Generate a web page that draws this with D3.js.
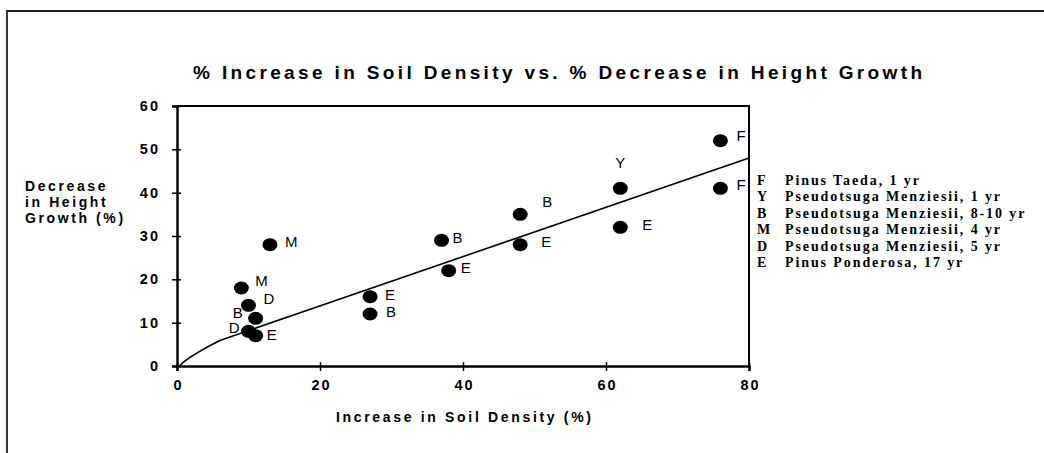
<!DOCTYPE html>
<html><head><meta charset="utf-8">
<script src="https://cdn.jsdelivr.net/npm/d3@7"></script>
<style>
html,body{margin:0;padding:0;background:#fff;}
svg{display:block;}
</style></head>
<body>
<svg id="chart" width="1044" height="453"></svg>
<script>
// ---- data ----
const pointCodes     = ["F","F","Y","E","B","E","B","E","E","B","M","M","D","B","D","E"];
const soilDensity    = [76, 76, 62, 62, 48, 48, 37, 38, 27, 27, 13,  9, 10, 11, 10, 11];
const heightDecrease = [52, 41, 41, 32, 35, 28, 29, 22, 16, 12, 28, 18, 14, 11,  8,  7];
const trendX = [0.3, 1, 2, 3, 4.5, 6, 80];
const trendY = [0, 1.0, 2.2, 3.2, 4.6, 5.9, 48];
const xTicks = [0, 20, 40, 60, 80];
const yTicks = [0, 10, 20, 30, 40, 50, 60];
const legendCodes  = ["F","Y","B","M","D","E"];
const legendLabels = ["Pinus Taeda, 1 yr","Pseudotsuga Menziesii, 1 yr","Pseudotsuga Menziesii, 8-10 yr",
                      "Pseudotsuga Menziesii, 4 yr","Pseudotsuga Menziesii, 5 yr","Pinus Ponderosa, 17 yr"];
const titleText  = "% Increase in Soil Density vs. % Decrease in Height Growth";
const xTitleText = "Increase in Soil Density (%)";
const yTitleLines = ["Decrease","in Height","Growth (%)"];

// label placement offsets (layout only)
const labelDx     = [16,16, 0,22,22,21,11,12,15,16,15,14,15,-13,-9,11];
const labelDy     = [-5,-4,-26,-3,-13,-3,-3,-3,-2,-3,-3,-8,-7,-6,-4,-1];
const labelAnchor = ["start","start","middle","start","start","start","start","start","start","start","start","start","start","end","end","start"];

// ---- layout ----
const svg = d3.select("#chart");
const L = 177, R = 749, T = 106, B = 366;
const x = d3.scaleLinear().domain([0, 80]).range([L, R]);
const y = d3.scaleLinear().domain([0, 60]).range([B, T]);
const sans = "'Liberation Sans', Arial, Helvetica, sans-serif";
const serif = "'Liberation Serif', 'Times New Roman', serif";

// outer border (top & left)
svg.append("path").attr("d", "M7,453 L7,11 L1044,11")
  .attr("fill", "none").attr("stroke", "#222").attr("stroke-width", 1.8);

// title
svg.append("text").attr("x", 193).attr("y", 79)
  .attr("textLength", 729).attr("lengthAdjust", "spacing")
  .style("font-family", sans).style("font-weight", "bold").style("font-size", "19px")
  .text(titleText);

// plot frame top/right
svg.append("path").attr("d", `M${L},${T} L${R},${T} L${R},${B}`)
  .attr("fill", "none").attr("stroke", "#000").attr("stroke-width", 2);

// y axis
const yAxis = svg.append("g").attr("transform", `translate(${L},0)`)
  .call(d3.axisLeft(y).tickValues(yTicks).tickSize(5).tickPadding(12).tickFormat(d3.format("d")));
yAxis.select(".domain").attr("stroke-width", 2.5).attr("stroke", "#000");
yAxis.selectAll(".tick line").attr("x1", 4).attr("stroke-width", 1.5);
yAxis.selectAll(".tick text").style("font-family", sans).style("font-weight", "bold")
  .style("font-size", "14.5px").style("letter-spacing", "2px").attr("fill", "#000");

// x axis
const xAxis = svg.append("g").attr("transform", `translate(0,${B})`)
  .call(d3.axisBottom(x).tickValues(xTicks).tickSize(5).tickPadding(9).tickFormat(d3.format("d")));
xAxis.select(".domain").attr("stroke-width", 2.5).attr("stroke", "#000");
xAxis.selectAll(".tick line").attr("y1", -4).attr("stroke-width", 1.5);
xAxis.selectAll(".tick text").style("font-family", sans).style("font-weight", "bold")
  .style("font-size", "14.5px").style("letter-spacing", "2px").attr("fill", "#000")
  .attr("dx", "1px");

// axis titles
svg.append("text").attr("x", 336).attr("y", 422)
  .attr("textLength", 255).attr("lengthAdjust", "spacing")
  .style("font-family", sans).style("font-weight", "bold").style("font-size", "14px")
  .text(xTitleText);

const yT = svg.append("text").style("font-family", sans).style("font-weight", "bold")
  .style("font-size", "14px").style("letter-spacing", "2.6px");
yTitleLines.forEach((s, i) => {
  yT.append("tspan").attr("x", 25).attr("y", 191 + i * 16).text(s);
});

// trend line
const trend = trendX.map((v, i) => [v, trendY[i]]);
svg.append("path").datum(trend)
  .attr("d", d3.line().x(d => x(d[0])).y(d => y(d[1])))
  .attr("fill", "none").attr("stroke", "#000").attr("stroke-width", 1.6)
  .attr("stroke-linejoin", "round");

// points
const pts = pointCodes.map((c, i) => ({c, x: soilDensity[i], y: heightDecrease[i], i}));
svg.append("g").selectAll("ellipse").data(pts).join("ellipse")
  .attr("cx", d => x(d.x)).attr("cy", d => y(d.y))
  .attr("rx", 7.5).attr("ry", 6.5).attr("fill", "#000");

svg.append("g").selectAll("text").data(pts).join("text")
  .attr("x", d => x(d.x) + labelDx[d.i]).attr("y", d => y(d.y) + labelDy[d.i])
  .attr("text-anchor", d => labelAnchor[d.i]).attr("dominant-baseline", "central")
  .style("font-family", sans).style("font-size", "15px")
  .text(d => d.c);

// legend
const lg = svg.append("g");
legendCodes.forEach((c, i) => {
  const yy = 180 + i * 16.5;
  lg.append("text").attr("x", 757).attr("y", yy).attr("dominant-baseline", "central")
    .style("font-family", serif).style("font-weight", "bold").style("font-size", "14px").text(c);
  lg.append("text").attr("x", 785).attr("y", yy).attr("dominant-baseline", "central")
    .style("font-family", serif).style("font-weight", "bold").style("font-size", "14px")
    .style("letter-spacing", "1.9px").text(legendLabels[i]);
});
</script>
</body></html>
